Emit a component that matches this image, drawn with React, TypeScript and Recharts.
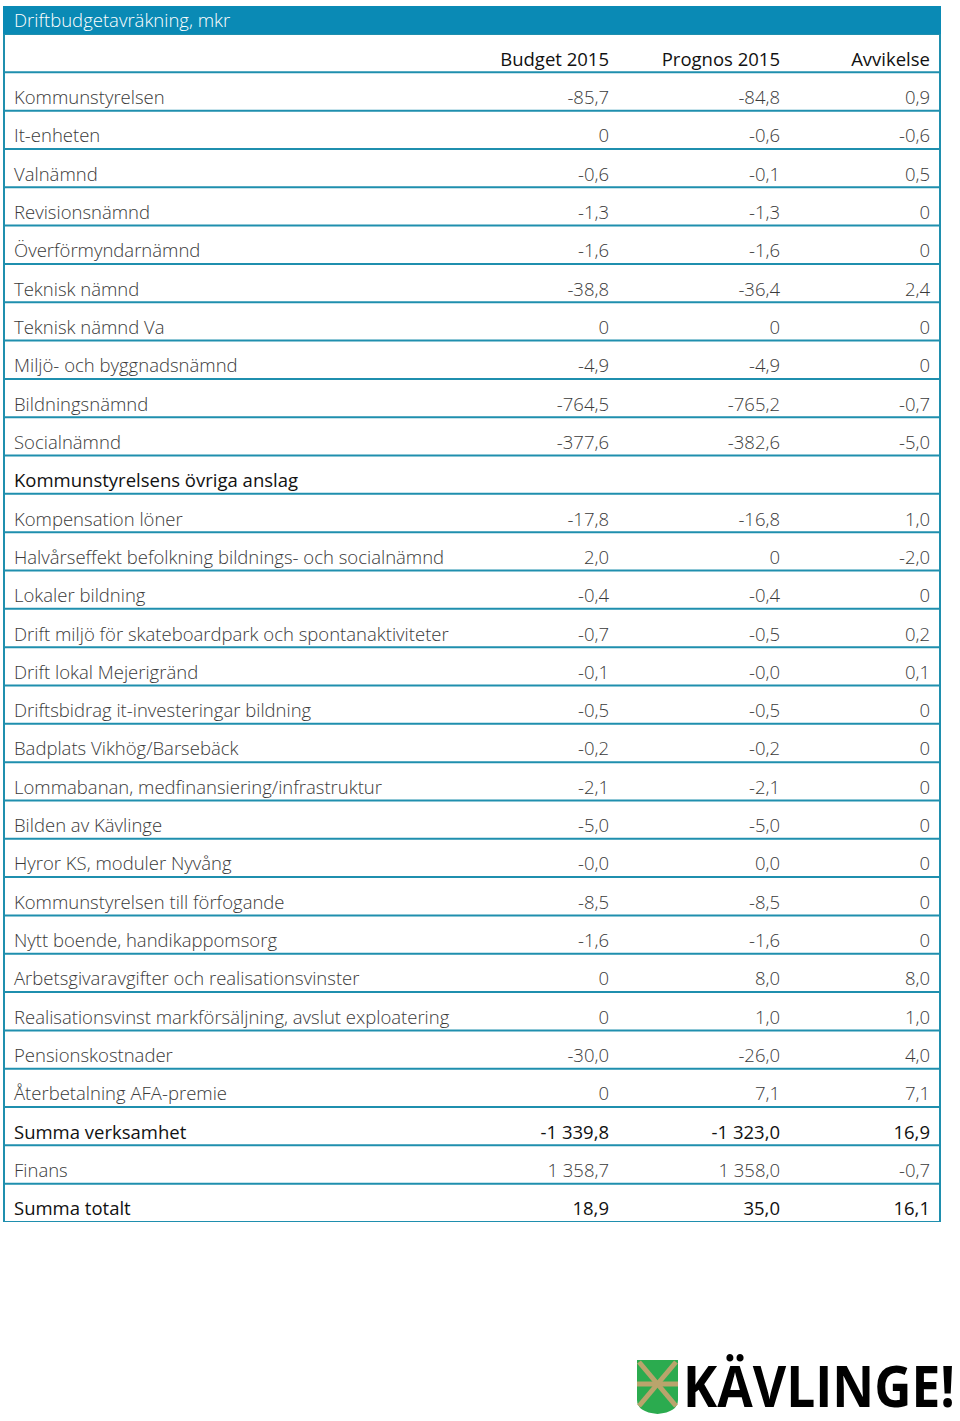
import React from 'react';
import { ScatterChart, Scatter, XAxis, YAxis, CartesianGrid } from 'recharts';

const title = 'Driftbudgetavräkning, mkr';
const columnHeaders = ['Budget 2015', 'Prognos 2015', 'Avvikelse'];

const rowLabels = [
  'Kommunstyrelsen',
  'It-enheten',
  'Valnämnd',
  'Revisionsnämnd',
  'Överförmyndarnämnd',
  'Teknisk nämnd',
  'Teknisk nämnd Va',
  'Miljö- och byggnadsnämnd',
  'Bildningsnämnd',
  'Socialnämnd',
  'Kommunstyrelsens övriga anslag',
  'Kompensation löner',
  'Halvårseffekt befolkning bildnings- och socialnämnd',
  'Lokaler bildning',
  'Drift miljö för skateboardpark och spontanaktiviteter',
  'Drift lokal Mejerigränd',
  'Driftsbidrag it-investeringar bildning',
  'Badplats Vikhög/Barsebäck',
  'Lommabanan, medfinansiering/infrastruktur',
  'Bilden av Kävlinge',
  'Hyror KS, moduler Nyvång',
  'Kommunstyrelsen till förfogande',
  'Nytt boende, handikappomsorg',
  'Arbetsgivaravgifter och realisationsvinster',
  'Realisationsvinst markförsäljning, avslut exploatering',
  'Pensionskostnader',
  'Återbetalning AFA-premie',
  'Summa verksamhet',
  'Finans',
  'Summa totalt',
];

const budget = [
  '-85,7', '0', '-0,6', '-1,3', '-1,6', '-38,8', '0', '-4,9', '-764,5', '-377,6',
  '', '-17,8', '2,0', '-0,4', '-0,7', '-0,1', '-0,5', '-0,2', '-2,1', '-5,0',
  '-0,0', '-8,5', '-1,6', '0', '0', '-30,0', '0', '-1 339,8', '1 358,7', '18,9',
];

const prognos = [
  '-84,8', '-0,6', '-0,1', '-1,3', '-1,6', '-36,4', '0', '-4,9', '-765,2', '-382,6',
  '', '-16,8', '0', '-0,4', '-0,5', '-0,0', '-0,5', '-0,2', '-2,1', '-5,0',
  '0,0', '-8,5', '-1,6', '8,0', '1,0', '-26,0', '7,1', '-1 323,0', '1 358,0', '35,0',
];

const avvikelse = [
  '0,9', '-0,6', '0,5', '0', '0', '2,4', '0', '0', '-0,7', '-5,0',
  '', '1,0', '-2,0', '0', '0,2', '0,1', '0', '0', '0', '0',
  '0', '0', '0', '8,0', '1,0', '4,0', '7,1', '16,9', '-0,7', '16,1',
];

const strongRows = ['Kommunstyrelsens övriga anslag', 'Summa verksamhet', 'Summa totalt'];

const TEAL = '#1f8fae';
const BAR = '#0a8ab5';
const FONT = "'Open Sans', 'Noto Sans', sans-serif";

// header row first, then the table rows
const rows = [
  { label: '', values: columnHeaders, strong: true },
  ...rowLabels.map((label, i) => ({
    label,
    values: [budget[i], prognos[i], avvikelse[i]],
    strong: strongRows.includes(label),
  })),
].map((r, i) => ({ ...r, col: 0, row: i + 0.5 }));

const rowTicks = Array.from({ length: rows.length + 1 }, (_, i) => i);

const CHART_W = 934;
const CHART_H = 1188;
const valueRight = [604, 775, 925];

const RowShape = (props: any) => {
  const { cx, cy, payload } = props;
  const fill = payload.strong ? '#111' : '#3a3a3a';
  const weight = payload.strong ? 400 : 300;
  const y = cy + 12.5;
  return (
    <g fontFamily={FONT} fontSize={18.5} fill={fill} fontWeight={weight}>
      <text x={cx + 9} y={y}>{payload.label}</text>
      {payload.values.map((v: string, i: number) => (
        <text key={i} x={cx + valueRight[i]} y={y} textAnchor="end">
          {v}
        </text>
      ))}
    </g>
  );
};

const Logo = () => (
  <svg width={328} height={91} style={{ position: 'absolute', left: 632, top: 1330 }}>
    <path d="M5 30 L46 30 L46 70 Q46 82 25.5 84 Q5 82 5 70 Z" fill="#2bab4f" />
    <g stroke="#b9a46c" strokeWidth={5}>
      <line x1={7} y1={32} x2={44} y2={76} />
      <line x1={44} y1={32} x2={7} y2={76} />
      <line x1={5} y1={54} x2={46} y2={54} />
    </g>
    <text
      transform="translate(51,77) scale(1,1.14)"
      fontFamily={FONT}
      fontWeight={700}
      fontSize={51}
      fill="#000"
      textLength={272}
      lengthAdjust="spacingAndGlyphs"
    >
      KÄVLINGE!
    </text>
  </svg>
);

export default function App() {
  return (
    <div style={{ position: 'absolute', left: 0, top: 0, width: 960, height: 1421, background: '#fff' }}>
      <div
        style={{
          position: 'absolute',
          left: 3,
          top: 6,
          width: 938,
          height: 28,
          background: BAR,
          color: '#fff',
          fontFamily: FONT,
          fontWeight: 300,
          fontSize: 18.5,
          lineHeight: '28px',
          boxSizing: 'border-box',
          paddingLeft: 11,
        }}
      >
        {title}
      </div>
      <div
        style={{
          position: 'absolute',
          left: 3,
          top: 34,
          width: CHART_W,
          height: CHART_H,
          borderLeft: `2px solid ${TEAL}`,
          borderRight: `2px solid ${TEAL}`,
        }}
      >
        <ScatterChart width={CHART_W} height={CHART_H} margin={{ top: 0, right: 0, bottom: 0, left: 0 }}>
          <CartesianGrid vertical={false} stroke={TEAL} strokeWidth={2} />
          <XAxis type="number" dataKey="col" domain={[0, 1]} hide />
          <YAxis
            type="number"
            dataKey="row"
            domain={[0, rows.length]}
            ticks={rowTicks}
            reversed
            hide
          />
          <Scatter data={rows} shape={RowShape} isAnimationActive={false} />
        </ScatterChart>
      </div>
      <Logo />
    </div>
  );
}
